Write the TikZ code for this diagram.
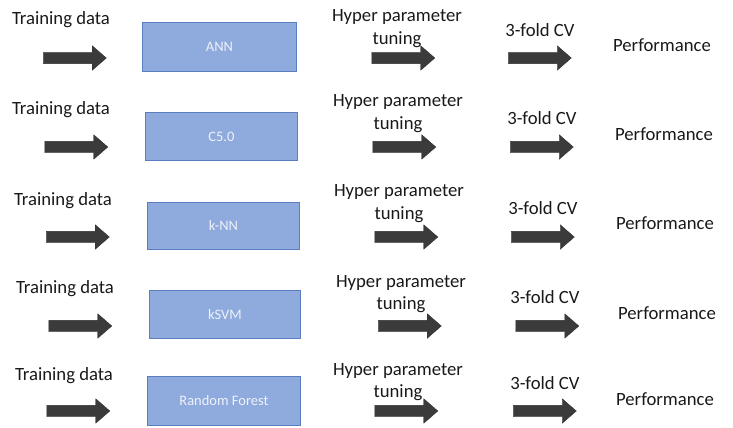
\documentclass[tikz,border=0pt]{standalone}
\usepackage{fontspec}
\setmainfont{Carlito}
\usetikzlibrary{shapes.arrows}
\definecolor{arrowgray}{HTML}{3B3B3B}
\definecolor{boxfill}{HTML}{8FAADC}
\definecolor{boxline}{HTML}{5A7EBF}
\definecolor{boxtext}{HTML}{EEF2FA}
\begin{document}
\begin{tikzpicture}[x=1pt,y=-1pt,
  lbl/.style={font=\fontsize{18.7}{21}\selectfont, text=black!90, inner sep=0pt},
  blockarrow/.style={single arrow, fill=arrowgray, draw=arrowgray!80!black, line width=0.4pt,
     inner xsep=0pt, inner ysep=5.5pt, single arrow head extend=6.5pt,
     single arrow tip angle=82, minimum height=63pt, xshift=-3.5pt},
  modelbox/.style={draw=boxline, fill=boxfill, line width=0.9pt,
     inner sep=0pt, anchor=north west},
  boxlbl/.style={text=boxtext, font=\fontsize{14.5}{16}\selectfont, inner sep=0pt}]
\useasboundingbox (0,0) rectangle (733,428);
\foreach \r/\tx/\tdy/\ay/\aa/\bx/\by/\bw/\bh/\name/\hx/\hy/\tuy/\ab/\cx/\cy/\ac/\px/\py in {
 1/61/20/58/75/142/22/154/49/ANN/397/17/40/403.5/540/30/540/662/45,
 2/61/110/147/76.5/145/112/152/48/C5.0/398/102/125/404.5/542/118/542/664/134,
 3/63/201/237/78/147/202/152/47/k-NN/399/192/215/406.5/543/208/543/665/223,
 4/65/289/326/80.5/149/290/151/48/kSVM/401/283/305/410/545/297/547.5/667/313,
 5/64/376/411/78.5/147/376/153/49/Random Forest/398/371/393/406.5/545/383/545/665/399}{
  \node[lbl] (td\r) at (\tx,\tdy) {Training data};
  \node[blockarrow] (a\r) at (\aa,\ay) {};
  \node[modelbox, minimum width=\bw pt, minimum height=\bh pt] (m\r) at (\bx,\by) {};
  \node[boxlbl] (mt\r) at (m\r.center) {\name};
  \node[lbl] (hp\r) at (\hx,\hy) {Hyper parameter};
  \node[lbl] (tu\r) at (\hx,\tuy) {tuning};
  \node[blockarrow] (b\r) at (\ab,\ay) {};
  \node[lbl] (cv\r) at (\cx,\cy) {3-fold CV};
  \node[blockarrow] (c\r) at (\ac,\ay) {};
  \node[lbl] (pf\r) at (\px,\py) {Performance};
}
\end{tikzpicture}
\end{document}
